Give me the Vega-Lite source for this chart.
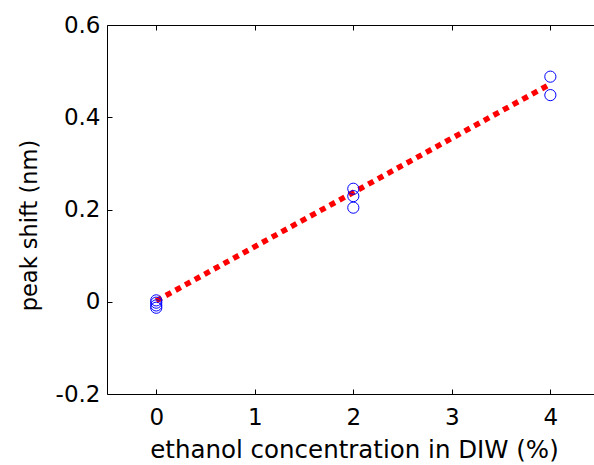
{
  "$schema": "https://vega.github.io/schema/vega-lite/v6.json",
  "width": 487,
  "height": 369,
  "autosize": {"type": "none"},
  "padding": {"left": 107, "top": 25, "right": 0, "bottom": 71},
  "background": "white",
  "config": {
    "view": {"stroke": null},
    "font": "DejaVu Sans",
    "axis": {
      "grid": false,
      "domainColor": "black",
      "domainWidth": 1,
      "tickColor": "black",
      "tickWidth": 1,
      "tickSize": -5,
      "labelFont": "DejaVu Sans",
      "labelFontSize": 23,
      "labelColor": "black",
      "titleFont": "DejaVu Sans",
      "titleFontWeight": "normal",
      "titleColor": "black"
    }
  },
  "datasets": {
    "measured": [
      {"conc": 0, "shift": 0.003},
      {"conc": 0, "shift": -0.002},
      {"conc": 0, "shift": -0.008},
      {"conc": 0, "shift": -0.013},
      {"conc": 2, "shift": 0.245},
      {"conc": 2, "shift": 0.229},
      {"conc": 2, "shift": 0.204},
      {"conc": 4, "shift": 0.488},
      {"conc": 4, "shift": 0.448}
    ],
    "fit": [
      {"conc": 0, "shift": 0.002},
      {"conc": 4, "shift": 0.472}
    ]
  },
  "resolve": {"axis": {"x": "independent"}},
  "layer": [
    {
      "data": {"name": "fit"},
      "mark": {"type": "line", "color": "#ff0000", "strokeWidth": 5.5, "strokeDash": [6, 5], "strokeCap": "butt"},
      "encoding": {
        "x": {
          "field": "conc", "type": "quantitative",
          "scale": {"domain": [-0.5, 4.443], "nice": false, "zero": false},
          "axis": {
            "orient": "bottom",
            "values": [0, 1, 2, 3, 4],
            "title": "ethanol concentration in DIW (%)",
            "titleFontSize": 24.5,
            "titleX": 247,
            "titleY": 63,
            "titleBaseline": "alphabetic",
            "labelBaseline": "alphabetic",
            "labelPadding": 35,
            "labelFlush": false
          }
        },
        "y": {
          "field": "shift", "type": "quantitative",
          "scale": {"domain": [-0.2, 0.6], "nice": false, "zero": false},
          "axis": {
            "values": [-0.2, 0, 0.2, 0.4, 0.6],
            "labelExpr": "datum.value < 0 ? '-' + format(-datum.value, '~g') : format(datum.value, '~g')",
            "title": "peak shift (nm)",
            "titleFontSize": 22.5,
            "titleAngle": -90,
            "titleX": -71,
            "titleY": 200,
            "titleAlign": "center",
            "titleBaseline": "alphabetic",
            "labelPadding": 12,
            "labelFlush": false
          }
        }
      }
    },
    {
      "data": {"name": "measured"},
      "mark": {"type": "point", "shape": "circle", "filled": false, "stroke": "#0000ff", "strokeWidth": 1, "size": 125, "opacity": 1},
      "encoding": {
        "x": {
          "field": "conc", "type": "quantitative",
          "axis": {"orient": "top", "values": [0, 1, 2, 3, 4], "labels": false, "title": null}
        },
        "y": {"field": "shift", "type": "quantitative"}
      }
    }
  ]
}
